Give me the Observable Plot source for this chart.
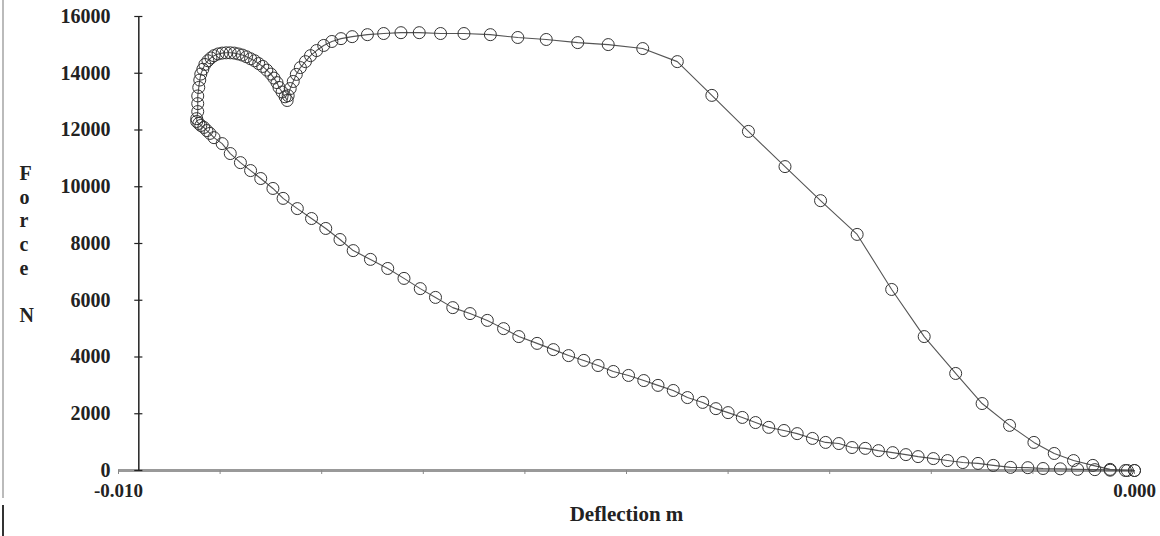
<!DOCTYPE html>
<html>
<head>
<meta charset="utf-8">
<script src="https://cdn.jsdelivr.net/npm/d3@7"></script>
<script src="https://cdn.jsdelivr.net/npm/@observablehq/plot@0.6"></script>
<style>
  html, body { margin: 0; padding: 0; background: #fff; }
  #wrap { position: relative; width: 1160px; height: 536px; overflow: hidden; }
  #edge1 { position: absolute; left: 2px; top: 0; width: 2px; height: 498px; background: #bbb; }
  #edge2 { position: absolute; left: 2px; top: 505px; width: 2px; height: 31px; background: #333; }
</style>
</head>
<body>
<div id="wrap"><div id="edge1"></div><div id="edge2"></div><div id="chart"></div></div>
<script>
// Loading path (from origin leftwards, over the peak, dip and hump)
const loadDeflection = [0, -0.00007, -0.00024, -0.00041, -0.00060, -0.00079, -0.00099, -0.00123, -0.00150, -0.00176,
  -0.00207, -0.00239, -0.00273, -0.00309, -0.00344, -0.00380, -0.00416, -0.00450, -0.00484, -0.00518,
  -0.00548, -0.00579, -0.00607, -0.00634, -0.00660, -0.00683, -0.00704, -0.00722, -0.00739, -0.00755,
  -0.00770, -0.00781, -0.00790, -0.00798, -0.00805, -0.00811, -0.00816, -0.00821, -0.00825, -0.00828,
  -0.00831, -0.00833, -0.00834, -0.00836, -0.00839, -0.00842, -0.00844, -0.00847, -0.00850, -0.00854,
  -0.00858, -0.00862, -0.00866, -0.00870, -0.00874, -0.00878, -0.00882, -0.00886, -0.00890, -0.00894,
  -0.00898, -0.00902, -0.00906, -0.00909, -0.00912, -0.00915, -0.00917, -0.00919, -0.00920, -0.00921,
  -0.00922, -0.00922, -0.00922, -0.00923];
const loadForce = [0, 0, 40, 180, 350, 600, 990, 1590, 2360, 3420,
  4720, 6380, 8320, 9510, 10710, 11950, 13220, 14410, 14870, 15010,
  15080, 15190, 15260, 15360, 15400, 15400, 15430, 15430, 15400, 15360,
  15290, 15220, 15120, 14980, 14800, 14620, 14410, 14200, 13960, 13710,
  13460, 13210, 13040, 13170, 13340, 13500, 13670, 13830, 13970, 14110,
  14240, 14340, 14440, 14510, 14580, 14640, 14680, 14710, 14720, 14720,
  14710, 14680, 14620, 14540, 14440, 14310, 14140, 13970, 13760, 13500,
  13200, 12930, 12650, 12400];
// Unloading path (back to origin along the lower curve)
const unloadDeflection = [-0.00923, -0.00921, -0.00919, -0.00916, -0.00913, -0.00910, -0.00906, -0.00898, -0.00890, -0.00880,
  -0.00870, -0.00860, -0.00848, -0.00838, -0.00824, -0.00810, -0.00796, -0.00782, -0.00769, -0.00752,
  -0.00735, -0.00719, -0.00703, -0.00688, -0.00671, -0.00654, -0.00637, -0.00621, -0.00606, -0.00588,
  -0.00572, -0.00557, -0.00542, -0.00528, -0.00513, -0.00498, -0.00483, -0.00469, -0.00454, -0.00440,
  -0.00425, -0.00412, -0.00400, -0.00386, -0.00373, -0.00360, -0.00345, -0.00332, -0.00317, -0.00304,
  -0.00291, -0.00278, -0.00265, -0.00252, -0.00238, -0.00225, -0.00213, -0.00198, -0.00184, -0.00169,
  -0.00154, -0.00139, -0.00122, -0.00105, -0.00090, -0.00073, -0.00056, -0.00039, -0.00024, -0.00009, 0];
const unloadForce = [12300, 12230, 12160, 12090, 11980, 11880, 11730, 11520, 11170, 10850,
  10570, 10290, 9940, 9590, 9230, 8880, 8530, 8140, 7750, 7440,
  7120, 6770, 6410, 6100, 5740, 5530, 5290, 5000, 4720, 4480,
  4260, 4050, 3880, 3700, 3490, 3350, 3170, 3000, 2820, 2570,
  2400, 2180, 2040, 1870, 1690, 1520, 1410, 1300, 1130, 990,
  950, 810, 780, 700, 630, 560, 490, 420, 350, 280,
  250, 180, 110, 100, 70, 60, 40, 30, 10, 0, 0];

const yTicks = [0, 2000, 4000, 6000, 8000, 10000, 12000, 14000, 16000];
const xTickMarks = [-0.010, -0.009, -0.008, -0.007, -0.006, -0.005, -0.004, -0.003, -0.002, -0.001, 0];
const xTickLabels = [-0.010, 0];
const yAxisAt = -0.0098;
const xLabel = "Deflection m";
const yLabel = "F\no\nr\nc\ne\n\nN";

const data = [];
loadDeflection.forEach((d, i) => data.push({x: d, y: loadForce[i]}));
unloadDeflection.forEach((d, i) => data.push({x: d, y: unloadForce[i]}));

const font = "'Liberation Serif', 'Times New Roman', serif";
const tickHalf = 0.00004;

const chart = Plot.plot({
  width: 1160,
  height: 536,
  marginLeft: 118,
  marginRight: 26,
  marginTop: 16,
  marginBottom: 66,
  style: {fontFamily: font, fontWeight: "bold", fontSize: "20px", color: "#222", background: "white"},
  x: {domain: [-0.010, 0]},
  y: {domain: [0, 16000]},
  marks: [
    Plot.ruleY([0], {stroke: "#999", strokeWidth: 3}),
    Plot.axisX({ticks: xTickMarks, tickSize: 4, stroke: "#888", tickFormat: () => "", label: null}),
    Plot.axisX({ticks: xTickLabels, tickSize: 0, tickPadding: 13, tickFormat: d => d.toFixed(3), label: null, fontSize: 19, fontWeight: "bold", fill: "#222"}),
    Plot.axisY({ticks: yTicks, tickSize: 0, tickPadding: 8, tickFormat: d3.format("d"), label: null, fontSize: 20, fill: "#222"}),
    Plot.ruleX([yAxisAt], {y1: 0, y2: 16000, stroke: "#222", strokeWidth: 1.5}),
    Plot.ruleY(yTicks, {y: d => d, x1: yAxisAt - tickHalf, x2: yAxisAt + tickHalf, stroke: "#222", strokeWidth: 1.2}),
    Plot.line(data, {x: "x", y: "y", stroke: "#555", strokeWidth: 1.1}),
    Plot.dot(data, {x: "x", y: "y", r: 6, stroke: "#333", strokeWidth: 1, fill: "none"}),
    Plot.text([xLabel], {text: d => d, frameAnchor: "bottom", dy: 50, fontSize: 21, fill: "#222"}),
    Plot.text([yLabel], {text: d => d, frameAnchor: "left", dx: -99, lineAnchor: "middle", lineHeight: 1.18, fontSize: 20, fill: "#222"})
  ]
});
document.getElementById("chart").appendChild(chart);
</script>
</body>
</html>
